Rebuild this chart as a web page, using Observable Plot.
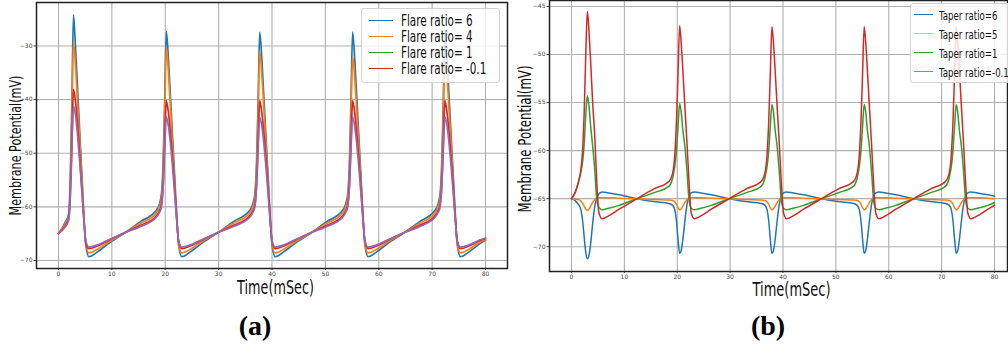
<!DOCTYPE html>
<html>
<head>
<meta charset="utf-8">
<script src="https://cdn.jsdelivr.net/npm/d3@7"></script>
<script src="https://cdn.jsdelivr.net/npm/@observablehq/plot@0.6"></script>
<style>
html, body { margin: 0; padding: 0; background: #fff; }
#root { position: relative; width: 1008px; height: 356px; overflow: hidden; font-family: "DejaVu Sans", sans-serif; }
.panel { position: absolute; top: 0; }
.legend { position: absolute; background: rgba(255,255,255,0.82); border: 1px solid #d2d2d2; border-radius: 3px; box-sizing: border-box; overflow: hidden; }
.legend .ln { position: absolute; height: 0; border-top-style: solid; }
.legend .lb { position: absolute; white-space: nowrap; color: #111; transform-origin: 0 50%; line-height: 1; }
.caption { position: absolute; top: 310px; width: 80px; text-align: center; font-family: "Liberation Serif", serif; font-weight: bold; font-size: 28px; color: #000; }
</style>
</head>
<body>
<div id="root">
  <div id="pa" class="panel" style="left:0px;width:520px;"></div>
  <div id="pb" class="panel" style="left:500px;width:508px;"></div>
  <div class="caption" style="left:215px;">(a)</div>
  <div class="caption" style="left:728px;">(b)</div>
</div>
<script>
// ---------- Panel (a): Flare ratio ----------
const timeA = [0, 1.3, 1.9, 2.2, 2.5, 2.8, 3.2, 3.6, 4.0, 4.4, 4.8, 5.1, 5.7, 7.3, 9.3, 12.5, 15.3,
  18.3, 18.9, 19.3, 19.6, 19.9, 20.2, 20.6, 21.0, 21.4, 21.8, 22.2, 22.5, 23.1, 24.7, 26.7, 29.9, 32.7,
  35.8, 36.4, 36.8, 37.1, 37.4, 37.7, 38.1, 38.5, 38.9, 39.3, 39.7, 40.0, 40.6, 42.2, 44.2, 47.4, 50.2,
  53.2, 53.8, 54.2, 54.5, 54.8, 55.1, 55.5, 55.9, 56.3, 56.7, 57.1, 57.4, 58.0, 59.6, 61.6, 64.8, 67.6,
  70.5, 71.1, 71.5, 71.8, 72.1, 72.4, 72.8, 73.2, 73.6, 74.0, 74.4, 74.7, 75.3, 76.9, 78.9, 80.0];

const flare6 = [-65.0, -62.8, -61.3, -55.0, -41.0, -24.2, -30.5, -38.5, -46.5, -54.5, -62.5, -67.0, -69.3, -68.4, -66.9, -64.8, -62.8,
  -60.7, -59.5, -57.5, -52.0, -40.0, -27.3, -32.5, -40.0, -47.5, -55.0, -62.5, -67.0, -69.3, -68.4, -66.9, -64.8, -62.8,
  -60.7, -59.5, -57.5, -52.0, -40.0, -27.4, -32.5, -40.0, -47.5, -55.0, -62.5, -67.0, -69.3, -68.4, -66.9, -64.8, -62.8,
  -60.7, -59.5, -57.5, -52.0, -40.0, -27.4, -32.5, -40.0, -47.5, -55.0, -62.5, -67.0, -69.3, -68.4, -66.9, -64.8, -62.8,
  -60.7, -59.5, -57.5, -52.0, -40.0, -27.5, -32.5, -40.0, -47.5, -55.0, -62.5, -67.0, -69.3, -68.4, -66.9, -66.2];

const flare4 = [-65.0, -63.1, -61.8, -56.5, -44.0, -29.2, -34.0, -41.0, -48.0, -55.0, -62.5, -66.8, -68.6, -67.9, -66.6, -64.8, -63.1,
  -61.2, -60.0, -58.3, -54.0, -43.0, -30.1, -35.0, -42.0, -49.0, -56.0, -62.8, -66.8, -68.6, -67.9, -66.6, -64.8, -63.1,
  -61.2, -60.0, -58.3, -54.0, -43.0, -31.0, -35.5, -42.0, -49.0, -56.0, -62.8, -66.8, -68.6, -67.9, -66.6, -64.8, -63.1,
  -61.2, -60.0, -58.3, -54.0, -43.0, -32.1, -36.0, -42.5, -49.0, -56.0, -62.8, -66.8, -68.6, -67.9, -66.6, -64.8, -63.1,
  -61.2, -60.0, -58.3, -54.0, -43.0, -32.5, -36.0, -42.5, -49.0, -56.0, -62.8, -66.8, -68.6, -67.9, -66.6, -66.1];

const flareM01 = [-65.0, -63.5, -62.2, -58.0, -48.5, -38.1, -40.5, -45.0, -51.0, -57.0, -63.0, -66.5, -67.8, -67.3, -66.3, -64.8, -63.5,
  -61.7, -60.8, -59.5, -56.0, -48.0, -40.2, -42.5, -46.5, -51.5, -57.0, -63.0, -66.4, -67.8, -67.3, -66.3, -64.8, -63.5,
  -61.7, -60.8, -59.5, -56.0, -48.0, -40.2, -42.5, -46.5, -51.5, -57.0, -63.0, -66.4, -67.8, -67.3, -66.3, -64.8, -63.5,
  -61.7, -60.8, -59.5, -56.0, -48.0, -40.2, -42.5, -46.5, -51.5, -57.0, -63.0, -66.4, -67.8, -67.3, -66.3, -64.8, -63.5,
  -61.7, -60.8, -59.5, -56.0, -48.0, -40.2, -42.5, -46.5, -51.5, -57.0, -63.0, -66.4, -67.8, -67.3, -66.3, -65.9];

// fifth (unlabelled, purple) trace visible in panel (a)
const flareExtra = [-65.0, -63.7, -62.5, -58.5, -50.0, -41.2, -43.0, -47.0, -52.0, -57.5, -63.0, -66.2, -67.5, -67.1, -66.2, -64.8, -63.7,
  -62.0, -61.1, -60.0, -56.5, -49.5, -43.2, -45.0, -48.5, -53.0, -58.0, -63.2, -66.2, -67.5, -67.1, -66.2, -64.8, -63.7,
  -62.0, -61.1, -60.0, -56.5, -49.5, -43.3, -45.0, -48.5, -53.0, -58.0, -63.2, -66.2, -67.5, -67.1, -66.2, -64.8, -63.7,
  -62.0, -61.1, -60.0, -56.5, -49.5, -43.2, -45.0, -48.5, -53.0, -58.0, -63.2, -66.2, -67.5, -67.1, -66.2, -64.8, -63.7,
  -62.0, -61.1, -60.0, -56.5, -49.5, -43.2, -45.0, -48.5, -53.0, -58.0, -63.2, -66.2, -67.5, -67.1, -66.2, -65.8];

const legendA = ["Flare ratio= 6", "Flare ratio= 4", "Flare ratio= 1", "Flare ratio= -0.1"];

// ---------- Panel (b): Taper ratio ----------
const timeB = [0, 0.7, 1.3, 1.7, 2.1, 2.4, 2.7, 3.0, 3.3, 3.6, 4.0, 4.4, 4.8, 5.2, 5.8, 7.0, 9.0, 12.4, 15.5,
  18.45, 19.15, 19.55, 19.85, 20.15, 20.45, 20.75, 21.05, 21.45, 21.85, 22.25, 22.65, 23.25, 24.45, 26.45, 29.85, 32.95,
  35.9, 36.6, 37.0, 37.3, 37.6, 37.9, 38.2, 38.5, 38.9, 39.3, 39.7, 40.1, 40.7, 41.9, 43.9, 47.3, 50.4,
  53.35, 54.05, 54.45, 54.75, 55.05, 55.35, 55.65, 55.95, 56.35, 56.75, 57.15, 57.55, 58.15, 59.35, 61.35, 64.75, 67.85,
  70.75, 71.45, 71.85, 72.15, 72.45, 72.75, 73.05, 73.35, 73.75, 74.15, 74.55, 74.95, 75.55, 76.75, 78.75, 80.0];

const taper6 = [-65.0, -65.2, -65.6, -66.0, -67.3, -69.0, -70.6, -71.25, -70.9, -69.8, -67.6, -65.8, -64.9, -64.5, -64.3, -64.4, -64.6, -65.0, -65.3,
  -65.5, -65.7, -66.2, -67.3, -69.2, -70.7, -70.4, -69.3, -67.3, -65.6, -64.7, -64.4, -64.3, -64.4, -64.6, -65.0, -65.3,
  -65.5, -65.7, -66.2, -67.3, -69.2, -70.7, -70.4, -69.3, -67.3, -65.6, -64.7, -64.4, -64.3, -64.4, -64.6, -65.0, -65.3,
  -65.5, -65.7, -66.2, -67.3, -69.2, -70.7, -70.4, -69.3, -67.3, -65.6, -64.7, -64.4, -64.3, -64.4, -64.6, -65.0, -65.3,
  -65.5, -65.7, -66.2, -67.3, -69.2, -70.7, -70.4, -69.3, -67.3, -65.6, -64.7, -64.4, -64.3, -64.4, -64.6, -64.75];

const taper5 = [-65.0, -65.05, -65.1, -65.2, -65.5, -65.8, -66.1, -66.2, -66.1, -65.8, -65.4, -65.1, -64.95, -64.9, -64.9, -64.9, -64.95, -65.0, -65.1,
  -65.15, -65.2, -65.35, -65.6, -65.95, -66.15, -66.05, -65.8, -65.4, -65.1, -64.95, -64.9, -64.9, -64.9, -64.95, -65.0, -65.1,
  -65.15, -65.2, -65.35, -65.6, -65.95, -66.15, -66.05, -65.8, -65.4, -65.1, -64.95, -64.9, -64.9, -64.9, -64.95, -65.0, -65.1,
  -65.15, -65.2, -65.35, -65.6, -65.95, -66.15, -66.05, -65.8, -65.4, -65.1, -64.95, -64.9, -64.9, -64.9, -64.95, -65.0, -65.1,
  -65.15, -65.2, -65.35, -65.6, -65.95, -66.15, -66.05, -65.8, -65.4, -65.1, -64.95, -64.9, -64.9, -64.9, -64.95, -65.0];

const taper1 = [-65.0, -64.4, -63.3, -62.4, -61.2, -59.3, -56.3, -54.3, -55.3, -57.3, -59.5, -62.0, -65.2, -65.9, -66.15, -66.0, -65.7, -65.0, -64.4,
  -63.7, -62.8, -61.6, -60.0, -57.5, -55.1, -56.0, -57.8, -59.6, -62.2, -65.2, -66.0, -66.15, -66.0, -65.7, -65.0, -64.4,
  -63.7, -62.8, -61.6, -60.0, -57.5, -55.2, -56.0, -57.8, -59.6, -62.2, -65.2, -66.0, -66.15, -66.0, -65.7, -65.0, -64.4,
  -63.7, -62.8, -61.6, -60.0, -57.5, -55.2, -56.0, -57.8, -59.6, -62.2, -65.2, -66.0, -66.15, -66.0, -65.7, -65.0, -64.4,
  -63.7, -62.8, -61.6, -60.0, -57.5, -55.2, -56.0, -57.8, -59.6, -62.2, -65.2, -66.0, -66.15, -66.0, -65.7, -65.4];

const taperM01 = [-65.0, -64.3, -63.3, -62.3, -60.0, -56.0, -50.0, -45.5, -47.5, -50.5, -55.0, -58.5, -63.5, -66.5, -67.1, -66.8, -66.1, -65.0, -64.0,
  -63.2, -62.3, -60.3, -57.0, -52.0, -47.0, -48.8, -51.5, -55.5, -59.3, -63.5, -66.5, -67.1, -66.8, -66.1, -65.0, -64.0,
  -63.2, -62.3, -60.3, -57.0, -52.0, -47.1, -48.8, -51.5, -55.5, -59.3, -63.5, -66.5, -67.1, -66.8, -66.1, -65.0, -64.0,
  -63.2, -62.3, -60.3, -57.0, -52.0, -47.1, -48.8, -51.5, -55.5, -59.3, -63.5, -66.5, -67.1, -66.8, -66.1, -65.0, -64.0,
  -63.2, -62.3, -60.3, -57.0, -52.0, -47.1, -48.8, -51.5, -55.5, -59.3, -63.5, -66.5, -67.1, -66.8, -66.1, -65.7];

const legendB = ["Taper ratio=6", "Taper ratio=5", "Taper ratio=1", "Taper ratio=-0.1"];

// ---------- shared ticks / labels ----------
const xTicks = [0, 10, 20, 30, 40, 50, 60, 70, 80];
const yTicksA = [-70, -60, -50, -40, -30];
const yTicksB = [-70, -65, -60, -55, -50, -45];
const xLabel = "Time(mSec)";
const yLabel = "Membrane Potential(mV)";

const COL = {blue: "#1f77b4", orange: "#ff7f0e", green: "#2ca02c", red: "#d62728", purple: "#9467bd"};

function rows(times, values) { return times.map((t, i) => ({t, v: values[i]})); }
function line(times, values, color, w) {
  return Plot.line(rows(times, values), {x: "t", y: "v", stroke: color, strokeWidth: w, curve: "monotone-x"});
}
const gridStyle = {stroke: "#b0b0b0", strokeOpacity: 1, strokeWidth: 1.1};
const baseStyle = {background: "transparent", fontFamily: "'DejaVu Sans', sans-serif", fontSize: "6px", color: "#444"};

const plotA = Plot.plot({
  width: 520, height: 300,
  marginLeft: 36, marginRight: 13, marginTop: 2, marginBottom: 32,
  style: baseStyle,
  x: {domain: [-4.12, 84.12]},
  y: {domain: [-71.5, -21.9]},
  marks: [
    Plot.gridX(xTicks, gridStyle),
    Plot.gridY(yTicksA, gridStyle),
    Plot.axisX({ticks: xTicks, tickSize: 2, tickPadding: 1.5, label: null}),
    Plot.axisY({ticks: yTicksA, tickSize: 2.5, tickPadding: 1.5, label: null}),
    line(timeA, flare6, COL.blue, 1.7),
    line(timeA, flare4, COL.orange, 1.7),
    line(timeA, flareM01, COL.red, 1.7),
    line(timeA, flareExtra, COL.purple, 1.7),
    Plot.frame({stroke: "#222", strokeWidth: 1.5}),
    Plot.text([xLabel], {text: d => d, frameAnchor: "bottom", textAnchor: "middle", lineAnchor: "middle", dx: 3.5, dy: 19.5, fontSize: 19, fill: "#111"}),
    Plot.text([yLabel], {text: d => d, frameAnchor: "left", textAnchor: "middle", lineAnchor: "middle", dx: -21, dy: 10, rotate: -90, fontSize: 16, fill: "#111"})
  ]
});

const plotB = Plot.plot({
  width: 508, height: 300,
  marginLeft: 49, marginRight: 1, marginTop: 0, marginBottom: 29,
  style: baseStyle,
  x: {domain: [-4.16, 82.46]},
  y: {domain: [-72.58, -44.38]},
  marks: [
    Plot.gridX(xTicks, gridStyle),
    Plot.gridY(yTicksB, gridStyle),
    Plot.axisX({ticks: xTicks, tickSize: 2, tickPadding: 1.5, label: null}),
    Plot.axisY({ticks: yTicksB, tickSize: 2.5, tickPadding: 1.5, label: null}),
    line(timeB, taper6, COL.blue, 1.5),
    line(timeB, taper5, COL.orange, 1.5),
    line(timeB, taper1, COL.green, 1.5),
    line(timeB, taperM01, COL.red, 1.5),
    Plot.frame({stroke: "#222", strokeWidth: 1.5}),
    Plot.text([xLabel], {text: d => d, frameAnchor: "bottom", textAnchor: "middle", lineAnchor: "middle", dx: 13, dy: 18, fontSize: 20, fill: "#111"}),
    Plot.text([yLabel], {text: d => d, frameAnchor: "left", textAnchor: "middle", lineAnchor: "middle", dx: -24, dy: 3, rotate: -90, fontSize: 17, fill: "#111"})
  ]
});

document.getElementById("pa").appendChild(plotA);
document.getElementById("pb").appendChild(plotB);

// condense the axis titles (the reference figure is horizontally squeezed)
function squeeze(svg, txt, len) {
  d3.select(svg).selectAll("text")
    .filter(function() { return this.textContent === txt; })
    .each(function() {
      const t = this.getAttribute("transform") || "";
      if (t.includes("rotate")) {
        const w = this.getComputedTextLength();
        this.setAttribute("transform", t + " scale(" + (len / w) + ",1)");
      } else {
        this.setAttribute("textLength", len);
        this.setAttribute("lengthAdjust", "spacingAndGlyphs");
      }
    });
}
squeeze(plotA, xLabel, 77);
squeeze(plotA, yLabel, 140);
squeeze(plotB, xLabel, 78);
squeeze(plotB, yLabel, 147);

// ---------- legends ----------
function legend(parent, box, labels, colors, opts) {
  const div = document.createElement("div");
  div.className = "legend";
  Object.assign(div.style, {left: box.left + "px", top: box.top + "px", width: box.width + "px", height: box.height + "px"});
  labels.forEach((lab, i) => {
    const y = opts.rows[i];
    const ln = document.createElement("div");
    ln.className = "ln";
    Object.assign(ln.style, {left: opts.lineX + "px", width: opts.lineW + "px", top: (y - 0.75) + "px",
      borderTopWidth: "1.5px", borderTopColor: colors[i], opacity: opts.alpha[i]});
    div.appendChild(ln);
    const sp = document.createElement("span");
    sp.className = "lb";
    sp.textContent = lab;
    Object.assign(sp.style, {left: opts.textX + "px", top: y + "px", fontSize: opts.fontSize + "px",
      transform: "translateY(-50%) scaleX(" + opts.sx + ")"});
    div.appendChild(sp);
  });
  parent.appendChild(div);
}
const root = document.getElementById("root");
legend(root, {left: 361, top: 8, width: 139, height: 75}, legendA,
  [COL.blue, COL.orange, COL.green, COL.red],
  {rows: [12, 27.5, 44, 60], lineX: 7, lineW: 24, textX: 39, fontSize: 16, sx: 0.65, alpha: [1, 1, 1, 1]});
legend(root, {left: 910, top: 3, width: 110, height: 80}, legendB,
  [COL.blue, COL.orange, COL.green, COL.red],
  {rows: [11, 30, 49, 68], lineX: 2.5, lineW: 19, textX: 27.5, fontSize: 13, sx: 0.66, alpha: [1, 0.6, 1, 0.7]});
</script>
</body>
</html>
